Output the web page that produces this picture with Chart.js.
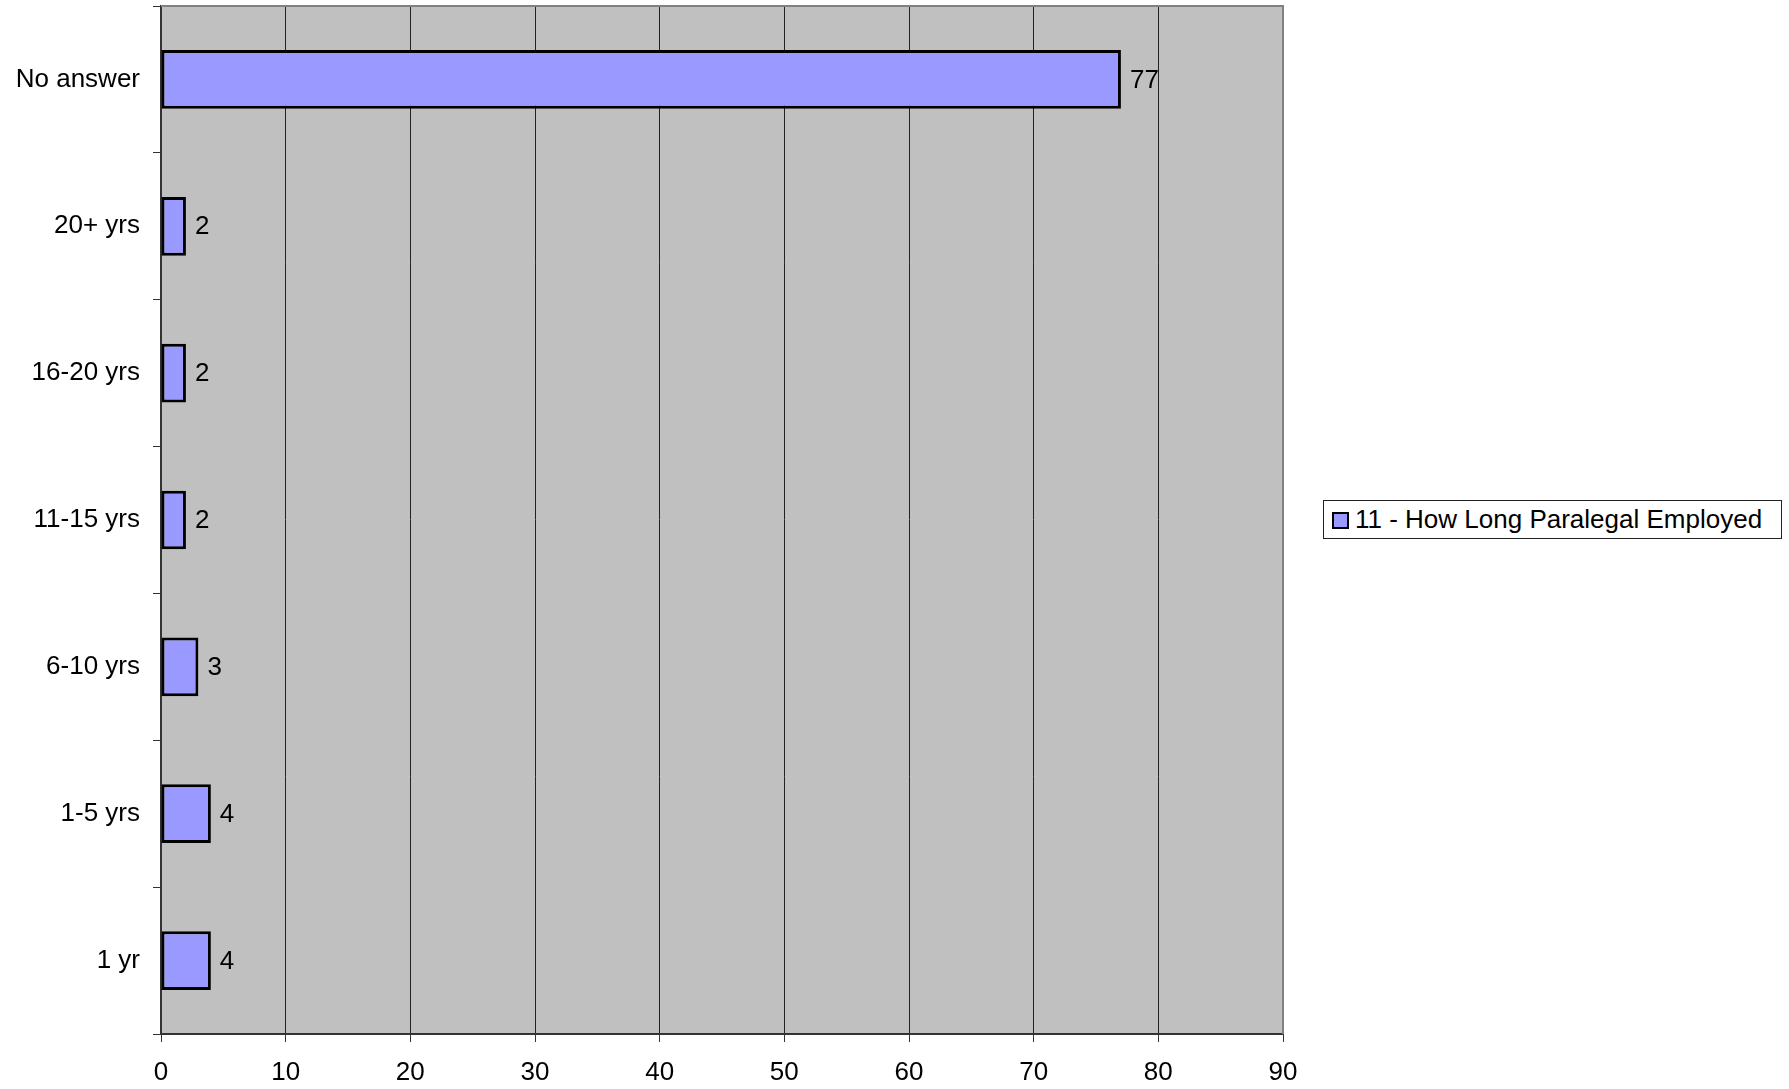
<!DOCTYPE html>
<html>
<head>
<meta charset="utf-8">
<title>11 - How Long Paralegal Employed</title>
<script src="https://cdn.jsdelivr.net/npm/chart.js"></script>
<style>
    body {
        margin: 0;
        background: #fff;
        font-family: "Liberation Sans", Arial, sans-serif;
    }
    #wrap {
        position: relative;
        width: 1789px;
        height: 1089px;
    }
    #legenda {
        position: absolute;
        left: 1323px;
        top: 500px;
        width: 457px;
        height: 37px;
        border: 1px solid #222;
        background: #fff;
        font-size: 26px;
        line-height: 37px;
        color: #000;
        white-space: nowrap;
    }
    #legenda span.quadrado {
        display: inline-block;
        width: 13px;
        height: 13px;
        background: #9999ff;
        border: 2px solid #000;
        margin-left: 8px;
        margin-right: 6px;
        vertical-align: -1px;
    }
</style>
</head>
<body>
<div id="wrap">
    <canvas id="myChart" width="1789" height="1089"></canvas>
    <div id="legenda"><span class="quadrado"></span>11 - How Long Paralegal Employed</div>
</div>
<script>
var categorias = ['No answer', '20+ yrs', '16-20 yrs', '11-15 yrs', '6-10 yrs', '1-5 yrs', '1 yr']
var valores = [77, 2, 2, 2, 3, 4, 4]
var ticksX = [0, 10, 20, 30, 40, 50, 60, 70, 80, 90]
var nomeSerie = '11 - How Long Paralegal Employed'

const fonte = {
    family: '"Liberation Sans", Arial, sans-serif',
    size: 26,
}

// fundo cinza da area do grafico e borda de cima/direita
const fundoPlot = {
    id: 'fundoPlot',
    beforeDraw(chart) {
        const a = chart.chartArea
        const ctx = chart.ctx
        ctx.save()
        ctx.fillStyle = '#c0c0c0'
        ctx.fillRect(a.left, a.top, a.right - a.left, a.bottom - a.top)
        ctx.restore()
    },
    afterDraw(chart) {
        const a = chart.chartArea
        const ctx = chart.ctx
        ctx.save()
        ctx.strokeStyle = '#808080'
        ctx.lineWidth = 2
        ctx.beginPath()
        ctx.moveTo(a.left, a.top)
        ctx.lineTo(a.right, a.top)
        ctx.lineTo(a.right, a.bottom)
        ctx.stroke()
        ctx.restore()
    }
}

// numeros ao lado das barras
const rotulos = {
    id: 'rotulos',
    afterDatasetsDraw(chart) {
        const ctx = chart.ctx
        const meta = chart.getDatasetMeta(0)
        ctx.save()
        ctx.font = '26px "Liberation Sans", Arial, sans-serif'
        ctx.fillStyle = '#000'
        ctx.textAlign = 'left'
        ctx.textBaseline = 'middle'
        meta.data.forEach((barra, i) => {
            ctx.fillText(valores[i], barra.x + 9, barra.y + 1)
        })
        ctx.restore()
    }
}

criarGrafico()
function criarGrafico() {
    const ctx = document.getElementById('myChart')

    const myChart = new Chart(ctx, {
        type: 'bar',
        data: {
            labels: categorias,
            datasets: [
                {
                    label: nomeSerie,
                    data: valores,
                    backgroundColor: '#9999ff',
                    borderColor: '#000',
                    borderWidth: 3,
                    borderSkipped: false,
                    categoryPercentage: 1,
                    barPercentage: 0.4,
                },
            ],
        },
        options: {
            indexAxis: 'y',
            responsive: false,
            animation: false,
            layout: {
                padding: { top: 6, right: 506, left: 0, bottom: 0 }
            },
            scales: {
                x: {
                    min: 0,
                    max: 90,
                    afterBuildTicks: (escala) => {
                        escala.ticks = ticksX.map((v) => ({ value: v }))
                    },
                    afterFit: (escala) => {
                        escala.height = 55
                        escala.paddingLeft = 0
                        escala.paddingRight = 0
                    },
                    grid: {
                        color: '#222',
                        lineWidth: 1,
                        drawTicks: true,
                        tickLength: 8,
                        tickColor: '#333',
                    },
                    border: {
                        color: '#333',
                        width: 2,
                    },
                    ticks: {
                        color: '#000',
                        font: fonte,
                        padding: 15,
                        maxRotation: 0,
                    },
                },
                y: {
                    offset: true,
                    afterFit: (escala) => {
                        escala.width = 161
                        escala.paddingTop = 0
                        escala.paddingBottom = 0
                    },
                    grid: {
                        offset: true,
                        drawOnChartArea: false,
                        drawTicks: true,
                        tickLength: 8,
                        tickColor: '#333',
                    },
                    border: {
                        color: '#333',
                        width: 2,
                    },
                    ticks: {
                        color: '#000',
                        font: fonte,
                        padding: 13,
                    },
                },
            },
            plugins: {
                legend: {
                    display: false,
                },
                tooltip: {
                    enabled: false,
                },
            },
        },
        plugins: [fundoPlot, rotulos],
    })
}
</script>
</body>
</html>
